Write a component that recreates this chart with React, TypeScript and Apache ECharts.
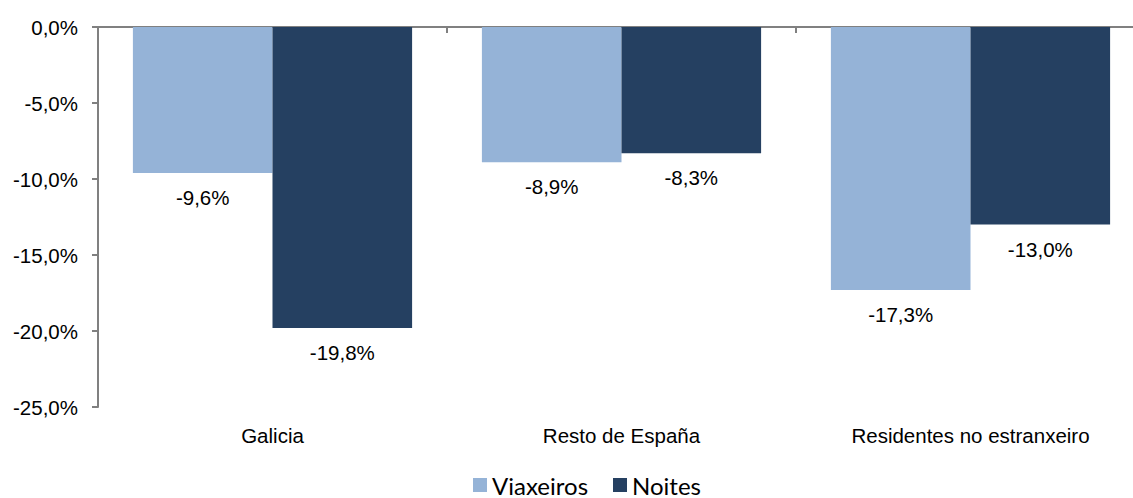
import React, { useEffect, useRef } from "react";
import * as echarts from "echarts";

const categories = ["Galicia", "Resto de España", "Residentes no estranxeiro"];
const viaxeiros = [-9.6, -8.9, -17.3];
const noites = [-19.8, -8.3, -13.0];
const seriesNames = ["Viaxeiros", "Noites"];
const colors = ["#95B3D7", "#254061"];

const fmt = (v: number) => v.toFixed(1).replace(".", ",") + "%";

export default function App() {
  const ref = useRef<HTMLDivElement>(null);
  useEffect(() => {
    document.body.style.margin = "0";
    const chart = echarts.init(ref.current!, undefined, { renderer: "svg" });
    const labelStyle = {
      show: true,
      position: "bottom" as const,
      distance: 14,
      color: "#000",
      fontFamily: "Liberation Sans, Arial, sans-serif",
      fontSize: 20.5,
      formatter: (p: any) => fmt(p.value),
    };
    chart.setOption({
      animation: false,
      backgroundColor: "#ffffff",
      grid: { left: 98, top: 27, height: 380, width: 1047, containLabel: false },
      legend: {
        top: 473,
        left: 473,
        padding: 0,
        itemWidth: 14,
        itemHeight: 14,
        itemGap: 25,
        icon: "rect",
        textStyle: { fontFamily: "Lato, sans-serif", fontSize: 24, lineHeight: 24, color: "#000" },
        data: seriesNames,
      },
      xAxis: [
        {
          type: "category",
          data: categories,
          position: "top",
          axisLine: { show: true, lineStyle: { color: "#808080", width: 2 } },
          axisTick: { show: true, inside: true, length: 6, lineStyle: { color: "#808080", width: 2 } },
          axisLabel: { show: false },
          splitLine: { show: false },
        },
        {
          type: "category",
          data: categories,
          position: "bottom",
          axisLine: { show: false },
          axisTick: { show: false },
          axisLabel: {
            show: true,
            margin: 18,
            color: "#000",
            fontFamily: "Liberation Sans, Arial, sans-serif",
            fontSize: 20.5,
          },
        },
      ],
      yAxis: {
        type: "value",
        min: -25,
        max: 0,
        interval: 5,
        axisLine: { show: true, lineStyle: { color: "#808080", width: 2 } },
        axisTick: { show: true, length: 6, lineStyle: { color: "#808080", width: 2 } },
        splitLine: { show: false },
        axisLabel: {
          margin: 20,
          color: "#000",
          fontFamily: "Liberation Sans, Arial, sans-serif",
          fontSize: 20.5,
          formatter: (v: number) => fmt(v),
        },
      },
      series: [
        {
          name: seriesNames[0],
          type: "bar",
          data: viaxeiros,
          itemStyle: { color: colors[0] },
          barGap: "0%",
          barCategoryGap: "20%",
          label: labelStyle,
        },
        {
          name: seriesNames[1],
          type: "bar",
          data: noites,
          itemStyle: { color: colors[1] },
          barGap: "0%",
          barCategoryGap: "20%",
          label: labelStyle,
        },
      ],
    });
    return () => chart.dispose();
  }, []);
  return (
    <div style={{ width: 1133, height: 498, overflow: "hidden" }}>
      <div ref={ref} style={{ width: 1145, height: 498 }} />
    </div>
  );
}
